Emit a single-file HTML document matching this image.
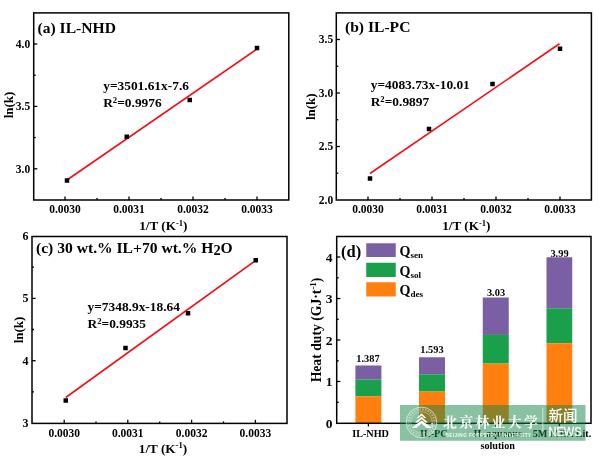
<!DOCTYPE html>
<html><head><meta charset="utf-8"><title>Figure</title>
<style>html,body{margin:0;padding:0;background:#fff}svg{display:block}svg text{font-family:"Liberation Serif", "Times New Roman", serif;font-weight:bold}</style>
</head><body>
<svg width="600" height="465" viewBox="0 0 600 465">
<rect width="600" height="465" fill="#fff"/>
<g fill="#000">
<line x1="67" y1="180" x2="257" y2="49" stroke="#f20d18" stroke-width="1.6"/>
<rect x="64.75" y="178.25" width="4.5" height="4.5" fill="#000"/>
<rect x="124.5" y="134.5" width="4.5" height="4.5" fill="#000"/>
<rect x="187.5" y="97.75" width="4.5" height="4.5" fill="#000"/>
<rect x="254.75" y="45.75" width="4.5" height="4.5" fill="#000"/>
<rect x="33.7" y="12.9" width="255.10000000000002" height="187.1" fill="none" stroke="#000" stroke-width="1.5"/>
<line x1="65" y1="200" x2="65" y2="196.4" stroke="#000" stroke-width="1.3"/>
<line x1="129" y1="200" x2="129" y2="196.4" stroke="#000" stroke-width="1.3"/>
<line x1="193" y1="200" x2="193" y2="196.4" stroke="#000" stroke-width="1.3"/>
<line x1="257" y1="200" x2="257" y2="196.4" stroke="#000" stroke-width="1.3"/>
<line x1="97" y1="200" x2="97" y2="198" stroke="#000" stroke-width="1.3"/>
<line x1="161" y1="200" x2="161" y2="198" stroke="#000" stroke-width="1.3"/>
<line x1="225" y1="200" x2="225" y2="198" stroke="#000" stroke-width="1.3"/>
<line x1="33.7" y1="44" x2="37.300000000000004" y2="44" stroke="#000" stroke-width="1.3"/>
<line x1="33.7" y1="106.4" x2="37.300000000000004" y2="106.4" stroke="#000" stroke-width="1.3"/>
<line x1="33.7" y1="168.8" x2="37.300000000000004" y2="168.8" stroke="#000" stroke-width="1.3"/>
<line x1="33.7" y1="75.2" x2="35.7" y2="75.2" stroke="#000" stroke-width="1.3"/>
<line x1="33.7" y1="137.6" x2="35.7" y2="137.6" stroke="#000" stroke-width="1.3"/>
<text x="65" y="212.8" font-size="11.5" text-anchor="middle" >0.0030</text>
<text x="129" y="212.8" font-size="11.5" text-anchor="middle" >0.0031</text>
<text x="193" y="212.8" font-size="11.5" text-anchor="middle" >0.0032</text>
<text x="257" y="212.8" font-size="11.5" text-anchor="middle" >0.0033</text>
<text x="30.2" y="47.8" font-size="11.5" text-anchor="end" >4.0</text>
<text x="30.2" y="110.2" font-size="11.5" text-anchor="end" >3.5</text>
<text x="30.2" y="172.60000000000002" font-size="11.5" text-anchor="end" >3.0</text>
<text x="37.5" y="32.7" font-size="15.6" text-anchor="start" >(a) IL-NHD</text>
<text x="103.2" y="89.8" font-size="13.4" text-anchor="start" >y=3501.61x-7.6</text>
<text x="103.2" y="107.3" font-size="13.4" text-anchor="start" >R<tspan font-size="65%" dy="-0.45em">2</tspan><tspan dy="0.29em">=0.9976</tspan></text>
<text transform="translate(13,105) rotate(-90)" font-size="13" text-anchor="middle">ln(k)</text>
<text x="163.3" y="229.8" font-size="13.2" text-anchor="middle" >1/T (K<tspan font-size="65%" dy="-0.5em">-1</tspan><tspan dy="0.325em">)</tspan></text>
<line x1="370" y1="173.5" x2="559.5" y2="43.75" stroke="#f20d18" stroke-width="1.6"/>
<rect x="367.75" y="176.25" width="4.5" height="4.5" fill="#000"/>
<rect x="426.75" y="126.75" width="4.5" height="4.5" fill="#000"/>
<rect x="490.25" y="81.75" width="4.5" height="4.5" fill="#000"/>
<rect x="557.75" y="46.5" width="4.5" height="4.5" fill="#000"/>
<rect x="336.3" y="12.9" width="255.09999999999997" height="187.1" fill="none" stroke="#000" stroke-width="1.5"/>
<line x1="368" y1="200" x2="368" y2="196.4" stroke="#000" stroke-width="1.3"/>
<line x1="432" y1="200" x2="432" y2="196.4" stroke="#000" stroke-width="1.3"/>
<line x1="496" y1="200" x2="496" y2="196.4" stroke="#000" stroke-width="1.3"/>
<line x1="560" y1="200" x2="560" y2="196.4" stroke="#000" stroke-width="1.3"/>
<line x1="400" y1="200" x2="400" y2="198" stroke="#000" stroke-width="1.3"/>
<line x1="464" y1="200" x2="464" y2="198" stroke="#000" stroke-width="1.3"/>
<line x1="528" y1="200" x2="528" y2="198" stroke="#000" stroke-width="1.3"/>
<line x1="336.3" y1="39.5" x2="339.90000000000003" y2="39.5" stroke="#000" stroke-width="1.3"/>
<line x1="336.3" y1="93" x2="339.90000000000003" y2="93" stroke="#000" stroke-width="1.3"/>
<line x1="336.3" y1="146.5" x2="339.90000000000003" y2="146.5" stroke="#000" stroke-width="1.3"/>
<line x1="336.3" y1="66.25" x2="338.3" y2="66.25" stroke="#000" stroke-width="1.3"/>
<line x1="336.3" y1="119.75" x2="338.3" y2="119.75" stroke="#000" stroke-width="1.3"/>
<line x1="336.3" y1="173.25" x2="338.3" y2="173.25" stroke="#000" stroke-width="1.3"/>
<text x="368" y="212.8" font-size="11.5" text-anchor="middle" >0.0030</text>
<text x="432" y="212.8" font-size="11.5" text-anchor="middle" >0.0031</text>
<text x="496" y="212.8" font-size="11.5" text-anchor="middle" >0.0032</text>
<text x="560" y="212.8" font-size="11.5" text-anchor="middle" >0.0033</text>
<text x="333.2" y="43.3" font-size="11.5" text-anchor="end" >3.5</text>
<text x="333.2" y="96.8" font-size="11.5" text-anchor="end" >3.0</text>
<text x="333.2" y="150.3" font-size="11.5" text-anchor="end" >2.5</text>
<text x="333.2" y="203.8" font-size="11.5" text-anchor="end" >2.0</text>
<text x="345" y="31.9" font-size="15.6" text-anchor="start" >(b) IL-PC</text>
<text x="370.7" y="88.5" font-size="13.4" text-anchor="start" >y=4083.73x-10.01</text>
<text x="370.7" y="105.7" font-size="13.4" text-anchor="start" >R<tspan font-size="65%" dy="-0.45em">2</tspan><tspan dy="0.29em">=0.9897</tspan></text>
<text transform="translate(315.4,106.75) rotate(-90)" font-size="13" text-anchor="middle">ln(k)</text>
<text x="466.3" y="229.8" font-size="13.2" text-anchor="middle" >1/T (K<tspan font-size="65%" dy="-0.5em">-1</tspan><tspan dy="0.325em">)</tspan></text>
<line x1="65.75" y1="397.5" x2="255.75" y2="260.5" stroke="#f20d18" stroke-width="1.6"/>
<rect x="63.5" y="398.25" width="4.5" height="4.5" fill="#000"/>
<rect x="123.25" y="345.75" width="4.5" height="4.5" fill="#000"/>
<rect x="185.75" y="311.0" width="4.5" height="4.5" fill="#000"/>
<rect x="253.5" y="258.0" width="4.5" height="4.5" fill="#000"/>
<rect x="32" y="236.5" width="255" height="186.89999999999998" fill="none" stroke="#000" stroke-width="1.5"/>
<line x1="64.2" y1="423.4" x2="64.2" y2="419.79999999999995" stroke="#000" stroke-width="1.3"/>
<line x1="127.8" y1="423.4" x2="127.8" y2="419.79999999999995" stroke="#000" stroke-width="1.3"/>
<line x1="191.6" y1="423.4" x2="191.6" y2="419.79999999999995" stroke="#000" stroke-width="1.3"/>
<line x1="255.4" y1="423.4" x2="255.4" y2="419.79999999999995" stroke="#000" stroke-width="1.3"/>
<line x1="96" y1="423.4" x2="96" y2="421.4" stroke="#000" stroke-width="1.3"/>
<line x1="159.7" y1="423.4" x2="159.7" y2="421.4" stroke="#000" stroke-width="1.3"/>
<line x1="223.5" y1="423.4" x2="223.5" y2="421.4" stroke="#000" stroke-width="1.3"/>
<line x1="32" y1="298.4" x2="35.6" y2="298.4" stroke="#000" stroke-width="1.3"/>
<line x1="32" y1="360.7" x2="35.6" y2="360.7" stroke="#000" stroke-width="1.3"/>
<line x1="32" y1="267.2" x2="34" y2="267.2" stroke="#000" stroke-width="1.3"/>
<line x1="32" y1="329.5" x2="34" y2="329.5" stroke="#000" stroke-width="1.3"/>
<line x1="32" y1="391.8" x2="34" y2="391.8" stroke="#000" stroke-width="1.3"/>
<text x="64.2" y="436.5" font-size="11.5" text-anchor="middle" >0.0030</text>
<text x="127.8" y="436.5" font-size="11.5" text-anchor="middle" >0.0031</text>
<text x="191.6" y="436.5" font-size="11.5" text-anchor="middle" >0.0032</text>
<text x="255.4" y="436.5" font-size="11.5" text-anchor="middle" >0.0033</text>
<text x="28.5" y="240" font-size="12" text-anchor="end" >6</text>
<text x="28.5" y="302.4" font-size="12" text-anchor="end" >5</text>
<text x="28.5" y="364.7" font-size="12" text-anchor="end" >4</text>
<text x="28.5" y="427" font-size="12" text-anchor="end" >3</text>
<text x="36" y="252.8" font-size="15.6" text-anchor="start" >(c) 30 wt.% IL+70 wt.% H<tspan font-size="92%" dy="0.17em">2</tspan><tspan dy="-0.156em">O</tspan></text>
<text x="87.5" y="310.8" font-size="13.4" text-anchor="start" >y=7348.9x-18.64</text>
<text x="87.5" y="328.2" font-size="13.4" text-anchor="start" >R<tspan font-size="65%" dy="-0.45em">2</tspan><tspan dy="0.29em">=0.9935</tspan></text>
<text transform="translate(23,330) rotate(-90)" font-size="13" text-anchor="middle">ln(k)</text>
<text x="163" y="452.5" font-size="13.2" text-anchor="middle" >1/T (K<tspan font-size="65%" dy="-0.5em">-1</tspan><tspan dy="0.325em">)</tspan></text>
<rect x="355.4" y="365.5" width="26.0" height="14.100000000000023" fill="#7b5fa5"/>
<rect x="355.4" y="379.6" width="26.0" height="16.599999999999966" fill="#1a9f4b"/>
<rect x="355.4" y="396.2" width="26.0" height="26.80000000000001" fill="#ff800e"/>
<rect x="419" y="357.25" width="26" height="17.05000000000001" fill="#7b5fa5"/>
<rect x="419" y="374.3" width="26" height="17.30000000000001" fill="#1a9f4b"/>
<rect x="419" y="391.6" width="26" height="31.399999999999977" fill="#ff800e"/>
<rect x="482.75" y="297.5" width="26.0" height="37.39999999999998" fill="#7b5fa5"/>
<rect x="482.75" y="334.9" width="26.0" height="28.700000000000045" fill="#1a9f4b"/>
<rect x="482.75" y="363.6" width="26.0" height="59.39999999999998" fill="#ff800e"/>
<rect x="546.5" y="257.25" width="25.75" height="51.0" fill="#7b5fa5"/>
<rect x="546.5" y="308.25" width="25.75" height="35.0" fill="#1a9f4b"/>
<rect x="546.5" y="343.25" width="25.75" height="79.75" fill="#ff800e"/>
<rect x="336.7" y="236.5" width="254.3" height="186.8" fill="none" stroke="#000" stroke-width="1.5"/>
<line x1="368.4" y1="423.3" x2="368.4" y2="426.5" stroke="#000" stroke-width="1.3"/>
<line x1="432" y1="423.3" x2="432" y2="426.5" stroke="#000" stroke-width="1.3"/>
<line x1="495.75" y1="423.3" x2="495.75" y2="426.5" stroke="#000" stroke-width="1.3"/>
<line x1="559.4" y1="423.3" x2="559.4" y2="426.5" stroke="#000" stroke-width="1.3"/>
<line x1="336.7" y1="257" x2="340.3" y2="257" stroke="#000" stroke-width="1.3"/>
<line x1="336.7" y1="298.5" x2="340.3" y2="298.5" stroke="#000" stroke-width="1.3"/>
<line x1="336.7" y1="340" x2="340.3" y2="340" stroke="#000" stroke-width="1.3"/>
<line x1="336.7" y1="381.5" x2="340.3" y2="381.5" stroke="#000" stroke-width="1.3"/>
<line x1="336.7" y1="277.8" x2="338.7" y2="277.8" stroke="#000" stroke-width="1.3"/>
<line x1="336.7" y1="319.3" x2="338.7" y2="319.3" stroke="#000" stroke-width="1.3"/>
<line x1="336.7" y1="360.8" x2="338.7" y2="360.8" stroke="#000" stroke-width="1.3"/>
<line x1="336.7" y1="402.3" x2="338.7" y2="402.3" stroke="#000" stroke-width="1.3"/>
<text x="332.5" y="261.6" font-size="13.5" text-anchor="end" >4</text>
<text x="332.5" y="303.1" font-size="13.5" text-anchor="end" >3</text>
<text x="332.5" y="344.6" font-size="13.5" text-anchor="end" >2</text>
<text x="332.5" y="386.1" font-size="13.5" text-anchor="end" >1</text>
<text x="332.5" y="427.6" font-size="13.5" text-anchor="end" >0</text>
<text x="341" y="257" font-size="16.5" text-anchor="start" >(d)</text>
<rect x="366.25" y="243.25" width="29.5" height="13.75" fill="#7b5fa5"/>
<text x="399.5" y="255.5" font-size="14" text-anchor="start" >Q<tspan font-size="65%" dy="0.25em">sen</tspan></text>
<rect x="366.25" y="262.75" width="29.5" height="14.25" fill="#1a9f4b"/>
<text x="399.5" y="275.5" font-size="14" text-anchor="start" >Q<tspan font-size="65%" dy="0.25em">sol</tspan></text>
<rect x="366.25" y="282.25" width="29.5" height="14.25" fill="#ff800e"/>
<text x="399.5" y="295.0" font-size="14" text-anchor="start" >Q<tspan font-size="65%" dy="0.25em">des</tspan></text>
<text x="368" y="361.5" font-size="10.4" text-anchor="middle" >1.387</text>
<text x="432" y="352.8" font-size="10.4" text-anchor="middle" >1.593</text>
<text x="496" y="296.3" font-size="10.4" text-anchor="middle" >3.03</text>
<text x="559.5" y="256.8" font-size="10.4" text-anchor="middle" >3.99</text>
<text x="370.6" y="436.8" font-size="10.2" text-anchor="middle" >IL-NHD</text>
<text x="433.8" y="436.8" font-size="10.2" text-anchor="middle" >IL-PC</text>
<text x="497.7" y="436.8" font-size="10.2" text-anchor="middle" >IL aqueous</text>
<text x="497.7" y="448.5" font-size="10.2" text-anchor="middle" >solution</text>
<text x="562" y="436.8" font-size="10.2" text-anchor="middle" >5M MEA Lit.</text>
<text transform="translate(320.8,330) rotate(-90)" font-size="13.7" text-anchor="middle">Heat duty (GJ·t<tspan font-size="65%" dy="-0.5em">-1</tspan><tspan dy="0.325em">)</tspan></text>
<g>
<rect x="400" y="405" width="185.5" height="35.8" fill="rgb(20,132,71)" fill-opacity="0.5"/>
<g stroke="#fff" fill="none"><circle cx="421.5" cy="422.4" r="15.3" stroke-width="0.8" opacity="0.8"/><circle cx="421.5" cy="422.4" r="10.8" stroke-width="0.5" opacity="0.7"/><circle cx="421.5" cy="422.4" r="13" stroke-width="2" stroke-dasharray="1.5 1.3" opacity="0.45"/></g>
<g fill="#fff"><path d="M421.5 413.2 L426.2 417.9 L424.2 417.9 L421.5 415.4 L418.8 417.9 L416.8 417.9 Z"/><path d="M421.5 416.7 L428 422.4 L425.5 422.4 L421.5 419 L417.5 422.4 L415 422.4 Z"/><path d="M421.5 420.4 L431 427 L431 428 L426.5 428 L421.5 423.6 L416.5 428 L412.5 428 L412.5 427 Z"/><rect x="431.3" y="423" width="1.6" height="4.5" opacity="0.8"/></g>
<text x="443" y="426.5" font-size="14" fill="#fff" style="font-family:'Noto Serif CJK SC','Noto Sans CJK SC',serif;font-weight:700" letter-spacing="2.2">北京林业大学</text>
<text x="445.5" y="436.8" font-size="4.6" fill="#fff" style="font-family:'Liberation Sans',sans-serif;font-weight:bold" textLength="85.5" lengthAdjust="spacing" opacity="0.9">BEIJING FORESTRY UNIVERSITY</text>
<line x1="542.8" y1="407.5" x2="542.8" y2="431" stroke="#fff" stroke-width="0.7" opacity="0.9"/>
<text x="548.5" y="421.3" font-size="14.5" fill="#fff" style="font-family:'Liberation Sans','Noto Sans CJK SC',sans-serif;font-weight:500">新闻</text>
<text x="548.5" y="435.6" font-size="12.5" fill="#fff" style="font-family:'Liberation Sans',sans-serif;font-weight:normal" stroke="#fff" stroke-width="0.3" textLength="33" lengthAdjust="spacingAndGlyphs">NEWS</text>
</g>
</g>
</svg>
</body></html>
